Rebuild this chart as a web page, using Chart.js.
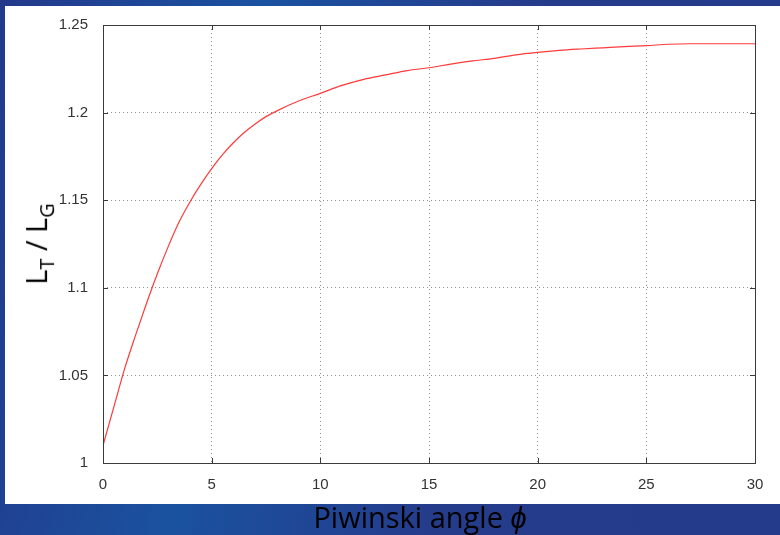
<!DOCTYPE html>
<html>
<head>
<meta charset="utf-8">
<script src="https://cdn.jsdelivr.net/npm/chart.js@4/dist/chart.umd.min.js"></script>
<style>
  html, body { margin: 0; padding: 0; }
  body {
    width: 780px; height: 535px; overflow: hidden; position: relative;
    background: linear-gradient(100deg, #23398b 0%, #1a52a0 30%, #1f4796 45%, #253c8b 60%, #243a8a 100%);
  }
  #panel { position: absolute; left: 5px; top: 6px; width: 775px; height: 498px; background: #fff; }
  #wrap { position: absolute; left: 0; top: 0; width: 780px; height: 535px; }
  .ytitle {
    position: absolute; left: 38px; top: 244px; transform: translate(-50%, -50%) rotate(-90deg);
    font-family: "Open Sans", "Liberation Sans", sans-serif; font-size: 29px; color: #000; white-space: nowrap;
  }
  .ytitle sub { font-size: 20px; }
  .xtitle {
    position: absolute; left: 420px; top: 516px; transform: translate(-50%, -50%);
    font-family: "Open Sans", "Liberation Sans", sans-serif; font-size: 29px; color: #000; white-space: nowrap;
  }
</style>
</head>
<body>
<div id="panel"></div>
<div id="wrap"><canvas id="chart" width="780" height="535"></canvas></div>
<div class="ytitle">L<sub>T</sub> / L<sub>G</sub></div>
<div class="xtitle">Piwinski angle <i>ϕ</i></div>
<script>
// Piwinski angle (x) and luminosity ratio L_T / L_G (y)
const angles = [0, 0.5, 1, 1.5, 2, 2.5, 3, 3.5, 4, 4.5, 5, 5.5, 6, 6.5, 7, 7.5, 8, 9, 10, 11, 12, 13, 14, 15, 16, 17, 18, 19, 20, 21, 22, 23, 24, 25, 26, 27, 28, 30];
const ratio = [1.010, 1.032, 1.054, 1.073, 1.091, 1.108, 1.1235, 1.1375, 1.149, 1.159, 1.168, 1.176, 1.1828, 1.1886, 1.1935, 1.1977, 1.201, 1.2066, 1.211, 1.2155, 1.219, 1.2215, 1.224, 1.2256, 1.2277, 1.2295, 1.231, 1.233, 1.2344, 1.2355, 1.2363, 1.237, 1.2377, 1.2382, 1.239, 1.2393, 1.2393, 1.2393];
const xTicks = [0, 5, 10, 15, 20, 25, 30];
const yTicks = [1, 1.05, 1.1, 1.15, 1.2, 1.25];

const FRAME = '#3a3a3a';
const GRID = '#909090';
const TICK_TEXT = '#333333';

// gnuplot style frame: solid box plus small inward tick marks on all four sides
const framePlugin = {
  id: 'frame',
  afterDatasetsDraw(chart) {
    const { ctx, chartArea: a, scales } = chart;
    ctx.save();
    ctx.strokeStyle = FRAME;
    ctx.lineWidth = 1;
    ctx.beginPath();
    xTicks.forEach(v => {
      const px = Math.round(scales.x.getPixelForValue(v)) + 0.5;
      ctx.moveTo(px, a.bottom); ctx.lineTo(px, a.bottom - 5);
      ctx.moveTo(px, a.top); ctx.lineTo(px, a.top + 5);
    });
    yTicks.forEach(v => {
      const py = Math.round(scales.y.getPixelForValue(v)) + 0.5;
      ctx.moveTo(a.left, py); ctx.lineTo(a.left + 5, py);
      ctx.moveTo(a.right, py); ctx.lineTo(a.right - 5, py);
    });
    ctx.stroke();
    ctx.strokeRect(Math.round(a.left) + 0.5, Math.round(a.top) + 0.5,
      Math.round(a.right - a.left), Math.round(a.bottom - a.top));
    ctx.restore();
  }
};

new Chart(document.getElementById('chart'), {
  type: 'line',
  data: {
    datasets: [{
      data: angles.map((x, i) => ({ x, y: ratio[i] })),
      borderColor: '#ff3a3a',
      borderWidth: 1.2,
      pointRadius: 0,
      cubicInterpolationMode: 'monotone',
      fill: false
    }]
  },
  options: {
    responsive: false,
    animation: false,
    layout: { padding: { left: 0, right: 25, top: 25, bottom: 0 } },
    plugins: { legend: { display: false }, tooltip: { enabled: false } },
    scales: {
      x: {
        type: 'linear',
        min: 0, max: 30,
        afterFit: s => { s.height = 72; },
        afterBuildTicks: s => { s.ticks = xTicks.map(v => ({ value: v })); },
        border: { display: false, dash: [1, 3] },
        grid: { color: GRID, lineWidth: 1, drawTicks: false },
        ticks: {
          color: TICK_TEXT, padding: 13,
          font: { family: 'Liberation Sans, Arial, sans-serif', size: 15 },
          callback: v => String(v)
        }
      },
      y: {
        type: 'linear',
        min: 1, max: 1.25,
        afterFit: s => { s.width = 103; },
        afterBuildTicks: s => { s.ticks = yTicks.map(v => ({ value: v })); },
        border: { display: false, dash: [1, 3] },
        grid: { color: GRID, lineWidth: 1, drawTicks: false },
        ticks: {
          color: TICK_TEXT, padding: 15,
          font: { family: 'Liberation Sans, Arial, sans-serif', size: 15 },
          callback: v => String(Math.round(v * 100) / 100)
        }
      }
    }
  },
  plugins: [framePlugin]
});
</script>
</body>
</html>
